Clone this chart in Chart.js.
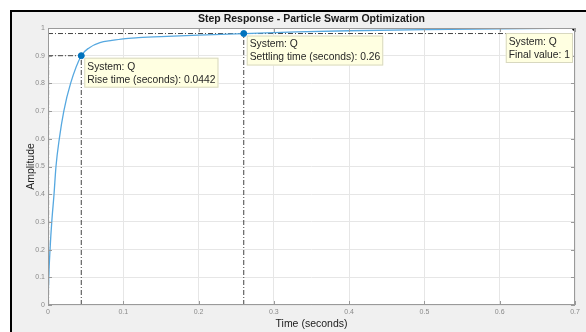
<!DOCTYPE html>
<html>
<head>
<meta charset="utf-8">
<script src="https://cdn.jsdelivr.net/npm/chart.js@4/dist/chart.umd.min.js"></script>
<style>
  html, body { margin: 0; padding: 0; background: #fff; }
  #frame {
    position: absolute; left: 10px; top: 10px; width: 600px; height: 340px;
    background: #f0f0f0; border-top: 2px solid #000; border-left: 2px solid #000;
  }
  #wrap { position: absolute; left: 0; top: 0; width: 586px; height: 332px; }
</style>
</head>
<body>
<div id="frame"></div>
<div id="wrap"><canvas id="chart" width="586" height="332"></canvas></div>
<script>
// ── Data ──────────────────────────────────────────────────────
const stepTime = [0, 0.001, 0.0027, 0.005, 0.008, 0.0106, 0.015, 0.021, 0.03, 0.0442,
                  0.055, 0.069, 0.085, 0.1, 0.12, 0.15, 0.2, 0.26, 0.33, 0.4, 0.5, 0.6, 0.7];
const stepAmp  = [0, 0.1, 0.2, 0.3, 0.4, 0.5, 0.6, 0.7, 0.8, 0.9,
                  0.929, 0.947, 0.955, 0.961, 0.965, 0.969, 0.974, 0.98, 0.986, 0.99, 0.994, 0.997, 0.999];

const riseStart   = 0.0008;
const riseTime    = 0.0442;
const riseLevel   = 0.9;
const settleTime  = 0.26;
const settleLevel = 0.98;
const finalTime   = 0.7;
const finalValue  = 1;

const xTicks = [0, 0.1, 0.2, 0.3, 0.4, 0.5, 0.6, 0.7];
const yTicks = [0, 0.1, 0.2, 0.3, 0.4, 0.5, 0.6, 0.7, 0.8, 0.9, 1];

const chartTitle = 'Step Response - Particle Swarm Optimization';

const tips = [
  { x: riseTime,   y: riseLevel,   lines: ['System: Q', 'Rise time (seconds): 0.0442'],   side: 'right' },
  { x: settleTime, y: settleLevel, lines: ['System: Q', 'Settling time (seconds): 0.26'], side: 'right' },
  { x: finalTime,  y: finalValue,  lines: ['System: Q', 'Final value: 1'],                side: 'left' },
];

const FONT = '"Liberation Sans", Arial, Helvetica, sans-serif';
const DASHDOT = [5, 2, 1, 2];
const REF = '#444';

const pts = (xs, ys) => xs.map((x, i) => ({ x, y: ys[i] }));
const fmtTick = v => String(+(+v).toFixed(2));

// ── Plugin: title, axes box, inner ticks, data tips ───────────
const matlabAxes = {
  id: 'matlabAxes',
  beforeDraw(chart) {
    const { ctx, chartArea: a } = chart;
    ctx.save();
    ctx.fillStyle = '#fff';
    ctx.fillRect(a.left, a.top, a.right - a.left, a.bottom - a.top);
    ctx.fillStyle = '#1a1a1a';
    ctx.font = 'bold 10.5px ' + FONT;
    ctx.textAlign = 'center';
    ctx.textBaseline = 'middle';
    ctx.fillText(chartTitle, (a.left + a.right) / 2, 19);
    ctx.restore();
  },
  afterDatasetsDraw(chart) {
    const { ctx, chartArea: a, scales: { x, y } } = chart;
    ctx.save();
    ctx.strokeStyle = '#9a9a9a';
    ctx.lineWidth = 1;
    ctx.strokeRect(a.left + 0.5, a.top + 0.5, a.right - a.left - 1, a.bottom - a.top - 1);
    ctx.beginPath();
    xTicks.forEach(v => {
      const px = Math.round(x.getPixelForValue(v)) + 0.5;
      ctx.moveTo(px, a.bottom); ctx.lineTo(px, a.bottom - 4);
      ctx.moveTo(px, a.top);    ctx.lineTo(px, a.top + 4);
    });
    yTicks.forEach(v => {
      const py = Math.round(y.getPixelForValue(v)) + 0.5;
      ctx.moveTo(a.left, py);  ctx.lineTo(a.left + 4, py);
      ctx.moveTo(a.right, py); ctx.lineTo(a.right - 4, py);
    });
    ctx.stroke();

    // data tips
    ctx.font = '10.3px ' + FONT;
    ctx.textBaseline = 'middle';
    tips.forEach(t => {
      const px = x.getPixelForValue(t.x), py = y.getPixelForValue(t.y);
      const w = Math.max(...t.lines.map(l => ctx.measureText(l).width)) + 6;
      const h = t.lines.length * 13 + 4;
      const bx = t.side === 'right' ? px + 3 : px - w - 2;
      const by = py + (t.side === 'right' ? 2 : 5);
      ctx.fillStyle = '#ffffe1';
      ctx.fillRect(bx, by, w, h);
      ctx.strokeStyle = '#d8d8c0';
      ctx.strokeRect(bx + 0.5, by + 0.5, w - 1, h - 1);
      ctx.fillStyle = '#262626';
      t.lines.forEach((l, i) => ctx.fillText(l, bx + 3, by + 9 + i * 13));
    });
    ctx.restore();
  }
};

const refLine = (data) => ({
  type: 'line', data, borderColor: REF, borderWidth: 1, borderDash: DASHDOT,
  pointRadius: 0, fill: false, tension: 0
});

new Chart(document.getElementById('chart'), {
  type: 'line',
  data: {
    datasets: [
      { data: [{ x: riseTime, y: riseLevel }, { x: settleTime, y: settleLevel }],
        showLine: false, pointRadius: 3, pointBackgroundColor: '#0072BD', pointBorderColor: '#0072BD' },
      { data: [{ x: finalTime, y: finalValue }], showLine: false, pointStyle: 'rect',
        pointRadius: 3, pointBackgroundColor: '#000', pointBorderColor: '#000' },
      { data: pts(stepTime, stepAmp), borderColor: '#56a8e0', borderWidth: 1.3,
        pointRadius: 0, fill: false, cubicInterpolationMode: 'monotone' },
      refLine([{ x: 0, y: riseLevel }, { x: riseTime, y: riseLevel }]),
      refLine([{ x: riseTime, y: 0 }, { x: riseTime, y: riseLevel }]),
      refLine([{ x: riseStart, y: 0 }, { x: riseStart, y: riseLevel }]),
      refLine([{ x: 0, y: settleLevel }, { x: finalTime, y: settleLevel }]),
      refLine([{ x: settleTime, y: 0 }, { x: settleTime, y: settleLevel }]),
    ]
  },
  options: {
    responsive: false, animation: false, events: [],
    layout: { padding: { left: 0, top: 28, right: 11, bottom: 0 } },
    plugins: { legend: { display: false }, tooltip: { enabled: false } },
    scales: {
      x: {
        type: 'linear', min: 0, max: 0.7,
        afterBuildTicks: s => { s.ticks = xTicks.map(v => ({ value: v })); },
        afterFit: s => { s.height = 27; s.paddingLeft = 0; s.paddingRight = 0; },
        ticks: { color: '#8a8a8a', font: { family: FONT, size: 7 }, padding: 3, maxRotation: 0, callback: fmtTick },
        grid: { color: '#e6e6e6', drawTicks: false },
        border: { display: false },
        title: { display: true, text: 'Time (seconds)', color: '#1a1a1a',
                 font: { family: FONT, size: 10.5, lineHeight: 1.2 }, padding: { top: 0, bottom: 2 } }
      },
      y: {
        type: 'linear', min: 0, max: 1,
        afterBuildTicks: s => { s.ticks = yTicks.map(v => ({ value: v })); },
        afterFit: s => { s.width = 48; s.paddingTop = 0; s.paddingBottom = 0; },
        ticks: { color: '#8a8a8a', font: { family: FONT, size: 7 }, padding: 3, callback: fmtTick },
        grid: { color: '#e6e6e6', drawTicks: false },
        border: { display: false },
        title: { display: true, text: 'Amplitude', color: '#1a1a1a',
                 font: { family: FONT, size: 10.5, lineHeight: 1.2 }, padding: { top: 25, bottom: 0 } }
      }
    }
  },
  plugins: [matlabAxes]
});
</script>
</body>
</html>
